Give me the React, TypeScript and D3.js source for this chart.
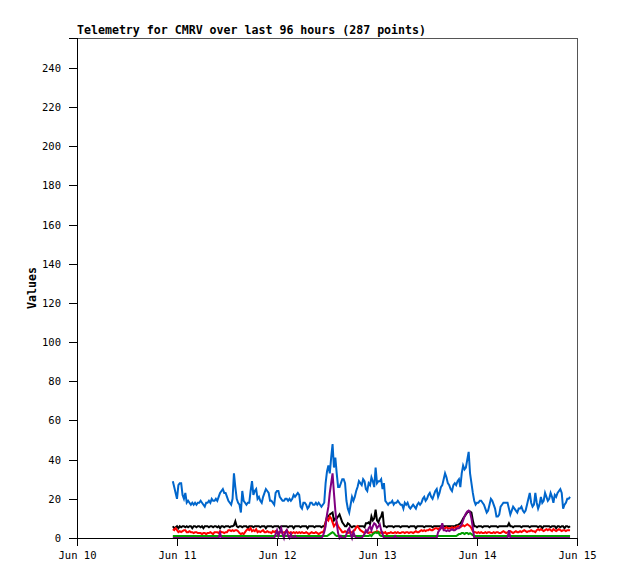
import React, { useEffect, useRef } from "react";
import * as d3 from "d3";

// 287 samples, one every 20 minutes, starting Jun 10 23:00
const START = Date.UTC(2024, 5, 10, 23, 0);
const STEP_MS = 20 * 60 * 1000;

const blue = [
  29, 26, 23, 20, 27, 28, 28, 22, 20, 23,
  18, 19, 18, 17, 18, 17, 18, 17, 18, 18,
  19, 18, 17, 16, 18, 18, 19, 18, 20, 19,
  19, 20, 19, 21, 23, 24, 25, 23, 23, 21,
  19, 18, 17, 20, 33, 26, 20, 18, 17, 13,
  24, 19, 18, 17, 18, 18, 24, 29, 22, 24,
  25, 20, 21, 19, 18, 21, 23, 25, 24, 23,
  19, 19, 18, 17, 23, 24, 24, 21, 20, 19,
  19, 20, 20, 19, 20, 19, 20, 22, 21, 22,
  23, 22, 16, 15, 18, 18, 17, 15, 16, 18,
  18, 17, 17, 18, 17, 18, 17, 16, 17, 18,
  28, 34, 37, 33, 41, 48, 36, 41, 33, 26,
  26, 28, 30, 30, 28, 19, 15, 13, 17, 21,
  19, 21, 24, 26, 29, 28, 27, 30, 29, 25,
  24, 28, 27, 31, 29, 26, 36, 28, 29, 29,
  30, 25, 28, 19, 18, 17, 18, 18, 19, 17,
  18, 18, 19, 18, 17, 17, 15, 18, 17, 18,
  16, 15, 16, 17, 16, 15, 17, 18, 17, 18,
  20, 21, 19, 20, 22, 23, 21, 20, 22, 24,
  25, 21, 23, 26, 27, 30, 33, 31, 28, 27,
  25, 24, 27, 28, 27, 29, 30, 26, 33, 37,
  35, 36, 40, 44, 33, 28, 23, 19, 17, 18,
  18, 19, 19, 18, 17, 15, 13, 14, 17, 20,
  19, 17, 15, 11, 11, 12, 16, 17, 18, 18,
  18, 18, 15, 12, 14, 16, 15, 14, 13, 15,
  15, 16, 14, 13, 14, 17, 20, 23, 18, 16,
  17, 23, 18, 15, 17, 21, 18, 19, 23, 21,
  19, 20, 23, 21, 18, 22, 21, 23, 24, 25,
  23, 15, 17, 18, 20, 20, 21,
];

const black = [
  6, 5, 5.5, 6, 5, 6, 5.5, 6, 6, 5.5,
  6, 5.5, 6, 6, 5, 6, 6, 5.5, 6, 6,
  5.5, 6, 5, 6, 6, 6, 5.5, 6, 6, 5.5,
  6, 6, 5.5, 6, 5, 6, 6, 5.5, 6, 6,
  6, 5.5, 6, 6, 6.5, 8.5, 6, 5.5, 6, 6,
  5.5, 6, 6, 6, 5, 6, 6, 6, 5.5, 6,
  6, 6, 6, 5.5, 6, 6, 6, 5, 6, 6,
  6, 6, 5.5, 6, 6, 6, 6, 5, 6, 6,
  6, 6, 6, 5.5, 6, 6, 6, 5, 6, 6,
  6, 6, 5.5, 6, 6, 6, 6, 5, 6, 6,
  6, 6, 5.5, 6, 6, 6, 6, 5.5, 6, 6,
  8, 11, 11, 12, 12.5, 13, 9, 10, 10, 11,
  12, 10, 8, 7, 6, 6, 7.5, 7, 6, 5.5,
  6, 6, 5.5, 6, 6, 6, 6, 6, 5.5, 7.5,
  7.5, 8, 7, 11, 9, 10, 14.5, 9, 8, 10,
  11, 13.5, 6, 6, 5.5, 6, 6, 6, 6, 5.5,
  6, 6, 6, 6, 5.5, 6, 6, 6, 6, 6,
  5.5, 6, 6, 6, 6, 5, 6, 6, 6, 6,
  6, 5.5, 6, 6, 6, 6, 6, 5.5, 6, 6,
  6, 6, 6, 6, 6.5, 6, 6, 6, 6, 6,
  6, 6, 6, 6, 6.5, 6.5, 7, 7.5, 8.5, 10,
  11, 12, 13, 13.5, 13.5, 13, 9, 6, 6, 5.5,
  6, 6, 6, 5.5, 6, 6, 6, 6, 5.5, 6,
  6, 6, 6, 6, 5.5, 6, 6, 6, 6, 6,
  6, 6, 7.5, 6, 6, 5.5, 6, 6, 6, 6,
  6, 5.5, 6, 6, 6, 6, 6, 5.5, 6, 6,
  6, 6, 6, 5.5, 6, 6, 5, 6, 6, 6,
  6, 6, 5.5, 6, 6, 6, 5, 6, 6, 5.5,
  6, 6, 5, 6, 6, 5.5, 6,
];

const red = [
  4.5, 4, 5, 4, 3, 3.5, 3, 3.5, 4, 4,
  3, 3, 3.5, 3, 3, 2.5, 3, 3, 2.5, 2.5,
  2.5, 2, 2.5, 2.5, 2, 2.5, 2.5, 3, 2.5, 2,
  3, 3, 3, 2.5, 3.5, 3, 3, 2.5, 3, 3,
  4, 4, 3.5, 4, 3.5, 4, 4, 3.5, 2.5, 2,
  2.5, 2, 3, 4, 4.5, 4, 5, 3.5, 4, 3.5,
  4.5, 3, 3.5, 3, 3.5, 4, 3, 3, 3.5, 3,
  3, 2.5, 3.5, 3, 3.5, 2.5, 3, 3, 3, 2.5,
  3, 3, 4, 3, 2.5, 3, 2.5, 3, 2.5, 3,
  2.5, 3, 2.5, 3, 2.5, 2.5, 3, 2.5, 2, 2.5,
  3, 2.5, 2.5, 3, 2.5, 2, 2.5, 3, 3, 4,
  8, 10, 9, 11, 10, 8, 6, 7, 8, 6,
  5, 4, 3, 3, 3.5, 3, 2.5, 3, 2.5, 3,
  3.5, 4, 5.5, 6, 5, 4, 3.5, 3, 2.5, 3,
  3, 2.5, 3, 3, 2.5, 3, 3, 3.5, 3, 3,
  2.5, 3, 2.5, 3, 2, 2.5, 2.5, 3, 2.5, 2.5,
  3, 2.5, 3, 2.5, 2.5, 3, 3, 2.5, 3, 3,
  2.5, 3, 3, 2.5, 3, 3.5, 3, 3, 3.5, 4,
  3.5, 4, 3.5, 4, 4, 4.5, 4, 4, 4.5, 5,
  5, 4.5, 5, 5.5, 5, 5, 5, 5.5, 5, 5,
  5, 5.5, 5, 5.5, 5, 6, 6, 5.5, 6, 6.5,
  6, 6.5, 7, 6.5, 6, 5, 3.5, 3, 3, 2.5,
  3, 2.5, 3, 2.5, 2.5, 3, 2.5, 3, 3, 2.5,
  2.5, 3, 2.5, 3, 3, 2.5, 2.5, 3, 3.5, 3,
  2.5, 3, 3, 3.5, 3, 2.5, 3, 3.5, 3, 3,
  3.5, 3, 3.5, 4, 3.5, 3, 3.5, 3.5, 4, 3.5,
  3.5, 3, 4, 4.5, 4, 4.5, 4, 3.5, 4, 4.5,
  4, 4.5, 4, 3.5, 4.5, 4, 3.5, 4, 4.5, 4,
  3.5, 4, 4, 3.5, 4, 4, 4,
];

const green = [
  1, 1, 1, 1, 1, 1, 1, 1, 1, 1,
  1, 1, 1, 1, 1, 1, 1, 1, 1, 1,
  1, 1, 1, 1, 1, 1, 1, 1, 1, 1,
  1, 1, 1, 1, 1, 1, 1, 1, 1, 1,
  1, 1, 1, 1, 1, 1, 1, 1, 1, 1,
  1, 1, 1, 1, 1, 1, 1, 1, 1, 1,
  1, 1, 1, 1, 1, 1, 1, 1, 1, 1,
  1, 1, 1, 1, 1, 1, 1, 1, 1, 1,
  1, 1, 1, 1, 1, 1, 1, 1, 1, 1,
  1, 1, 1, 1, 1, 1, 1, 1, 1, 1,
  1, 1, 1, 1, 1, 1, 1, 1, 1, 1,
  1, 1, 1.5, 2, 2.5, 3, 2.5, 1.5, 1, 1,
  1, 1, 1, 1, 1, 1, 1, 1, 1, 1,
  1, 1, 1, 1, 1, 1, 1, 1, 1, 1,
  1, 1, 1.5, 1, 2, 2.5, 3, 2.5, 3, 1.5,
  1, 1, 1, 1, 1, 1, 1, 1, 1, 1,
  1, 1, 1, 1, 1, 1, 1, 1, 1, 1,
  1, 1, 1, 1, 1, 1, 1, 1, 1, 1,
  1, 1, 1, 1, 1, 1, 1, 1, 1, 1,
  1, 1, 1, 1, 1, 1, 1, 1, 1, 1,
  1, 1, 1, 1, 1, 1.5, 2, 2, 2.5, 2.5,
  2, 2.5, 2.5, 2, 2.5, 2, 1.5, 1, 1, 1,
  1, 1, 1, 1, 1, 1, 1, 1, 1, 1,
  1, 1, 1, 1, 1, 1, 1, 1, 1, 1,
  1, 1, 1, 1, 1, 1, 1, 1, 1, 1,
  1, 1, 1, 1, 1, 1, 1, 1, 1, 1,
  1, 1, 1, 1, 1, 1, 1, 1, 1, 1,
  1, 1, 1, 1, 1, 1, 1, 1, 1, 1,
  1, 1, 1, 1, 1, 1, 1,
];

const purple = [
  0, 0, 0, 0, 0, 0, 0, 0, 0, 0,
  0, 0, 0, 0, 0, 0, 0, 0, 0, 0,
  0, 0, 0, 0, 0, 0, 0, 0, 0, 0,
  0, 0, 0, 0, 2.5, 0, 0, 0, 0, 0,
  0, 0, 0, 0, 0, 0, 0, 0, 0, 0,
  0, 0, 0, 0, 0, 0, 0, 0, 0, 0,
  0, 0, 0, 0, 0, 0, 0, 0, 0, 0,
  0, 0, 0, 0, 2, 4, 1, 3, 5, 2,
  0, 3, 4, 1, 0, 2, 0, 0, 1, 0,
  0, 0, 0, 0, 0, 0, 0, 0, 0, 0,
  0, 0, 0, 0, 0, 0, 0, 0, 1, 3,
  6, 12, 16, 23, 28, 33, 23, 14, 7.5, 2.5,
  0, 1, 0, 0, 0, 2, 4, 5, 2, 0,
  3, 1, 0, 0, 0, 0, 0, 1, 2, 4,
  3, 5, 6, 4, 6, 7.5, 7, 5, 6, 7,
  4, 2, 0, 0, 0, 0, 0, 0, 0, 0,
  1, 0, 0, 0, 0, 0, 0, 0, 0, 0,
  0, 0, 0, 0, 0, 0, 0, 0, 0, 0,
  0, 0, 0, 0, 0, 0, 0, 0, 0, 0,
  0, 3, 4, 5, 7.5, 4, 4, 3.5, 4, 3.5,
  4, 4.5, 4, 4, 4.5, 5, 5, 6, 7, 9,
  11, 12.5, 13.5, 14, 13, 10, 5, 0, 0, 0,
  0, 0, 0, 0, 0, 0, 0, 0, 0, 0,
  0, 0, 0, 0, 0, 0, 0, 0, 0, 0,
  0, 0, 4, 0, 0, 0, 0, 0, 0, 0,
  0, 0, 0, 0, 0, 0, 0, 0, 0, 0,
  0, 0, 0, 0, 0, 0, 0, 0, 0, 0,
  0, 0, 0, 0, 0, 0, 0, 0, 0, 0,
  0, 0, 0, 0, 0, 0, 0,
];

// drawn in this order, last on top
const seriesList = [
  { name: "blue", values: blue, color: "#0066cc" },
  { name: "black", values: black, color: "#000000" },
  { name: "red", values: red, color: "#ff0000" },
  { name: "green", values: green, color: "#00a000" },
  { name: "purple", values: purple, color: "#800080" },
];

const yTicks = [0, 20, 40, 60, 80, 100, 120, 140, 160, 180, 200, 220, 240];
const title = "Telemetry for CMRV over last 96 hours (287 points)";

const WIDTH = 618;
const HEIGHT = 579;
const margin = { top: 38, right: 41, bottom: 41, left: 77 };
const FONT = "'DejaVu Sans Mono', 'Liberation Mono', monospace";

const App: React.FC = () => {
  const svgRef = useRef<SVGSVGElement>(null);

  useEffect(() => {
    if (!svgRef.current) return;
    const svg = d3.select(svgRef.current);
    svg.selectAll("*").remove();

    const innerW = WIDTH - margin.left - margin.right;
    const innerH = HEIGHT - margin.top - margin.bottom;

    const x = d3.scaleUtc()
      .domain([new Date(Date.UTC(2024, 5, 10)), new Date(Date.UTC(2024, 5, 15))])
      .range([0, innerW]);
    const y = d3.scaleLinear().domain([0, 255.3]).range([innerH, 0]);

    svg.append("rect")
      .attr("width", WIDTH)
      .attr("height", HEIGHT)
      .attr("fill", "#ffffff");

    const g = svg.append("g")
      .attr("transform", `translate(${margin.left},${margin.top})`);

    // series
    const line = d3.line<number>()
      .x((_, i) => x(new Date(START + i * STEP_MS)))
      .y(d => y(d));

    seriesList.forEach(s => {
      g.append("path")
        .datum(s.values)
        .attr("fill", "none")
        .attr("stroke", s.color)
        .attr("stroke-width", 2)
        .attr("d", line);
    });

    // frame: top and right in grey
    g.append("line")
      .attr("x1", 0).attr("x2", innerW).attr("y1", 0.5).attr("y2", 0.5)
      .attr("stroke", "#555").attr("stroke-width", 1)
      .attr("shape-rendering", "crispEdges");
    g.append("line")
      .attr("x1", innerW + 0.5).attr("x2", innerW + 0.5).attr("y1", 0).attr("y2", innerH)
      .attr("stroke", "#555").attr("stroke-width", 1)
      .attr("shape-rendering", "crispEdges");

    // y axis
    const yAxis = g.append("g")
      .attr("shape-rendering", "crispEdges")
      .call(d3.axisLeft(y).tickValues(yTicks).tickSize(8).tickPadding(8).tickFormat(d3.format("d")));
    yAxis.select(".domain").attr("stroke", "#000");
    yAxis.selectAll("line").attr("stroke", "#000");
    yAxis.selectAll("text")
      .attr("font-family", FONT)
      .attr("font-size", 10.5)
      .attr("fill", "#000");

    // x axis
    const days = d3.utcDay.range(x.domain()[0], d3.utcDay.offset(x.domain()[1], 1));
    const xAxis = g.append("g")
      .attr("transform", `translate(0,${innerH})`)
      .attr("shape-rendering", "crispEdges")
      .call(d3.axisBottom(x).tickValues(days).tickSize(8).tickPadding(6).tickFormat(d => d3.utcFormat("%b %d")(d as Date)));
    xAxis.select(".domain").attr("stroke", "#000");
    xAxis.selectAll("line").attr("stroke", "#000");
    xAxis.selectAll("text")
      .attr("font-family", FONT)
      .attr("font-size", 10.5)
      .attr("fill", "#000");

    // title
    svg.append("text")
      .attr("x", margin.left)
      .attr("y", 34)
      .attr("font-family", FONT)
      .attr("font-weight", "bold")
      .attr("font-size", 11.6)
      .attr("fill", "#000")
      .text(title);

    // y label
    svg.append("text")
      .attr("transform", `translate(36,${margin.top + innerH / 2}) rotate(-90)`)
      .attr("text-anchor", "middle")
      .attr("font-family", FONT)
      .attr("font-weight", "bold")
      .attr("font-size", 11.6)
      .attr("fill", "#000")
      .text("Values");
  }, []);

  return (
    <svg
      ref={svgRef}
      width={WIDTH}
      height={HEIGHT}
      style={{ position: "absolute", left: 0, top: 0 }}
    ></svg>
  );
};

export default App;
